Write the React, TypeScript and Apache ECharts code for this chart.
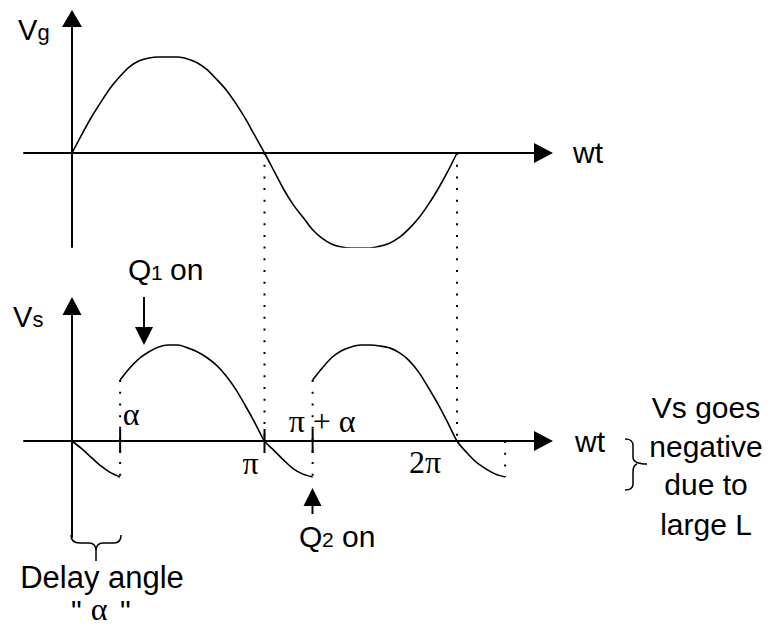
import React, { useEffect, useRef } from "react";
import * as echarts from "echarts";

// ---------- data (x in multiples of π, y in units of peak amplitude) ----------
const vgX = [0, 0.05, 0.1, 0.15, 0.2, 0.25, 0.3, 0.35, 0.4, 0.45, 0.5, 0.55, 0.6, 0.65, 0.7, 0.75, 0.8, 0.85, 0.9, 0.95, 1,
  1.05, 1.1, 1.15, 1.2, 1.25, 1.3, 1.35, 1.4, 1.45, 1.5, 1.55, 1.6, 1.65, 1.7, 1.75, 1.8, 1.85, 1.9, 1.95, 2];
const vgY = [0, 0.19, 0.37, 0.53, 0.68, 0.8, 0.9, 0.96, 0.99, 1, 1, 1, 0.98, 0.94, 0.87, 0.77, 0.66, 0.52, 0.36, 0.18, 0,
  -0.19, -0.38, -0.54, -0.67, -0.8, -0.89, -0.95, -0.98, -0.99, -0.99, -0.99, -0.97, -0.94, -0.88, -0.79, -0.68, -0.54, -0.38, -0.2, 0];

const vsX1 = [0, 0.05, 0.1, 0.15, 0.2, 0.25];
const vsY1 = [0, -0.08, -0.17, -0.26, -0.33, -0.375];

const vsX2 = [0.25, 0.3, 0.35, 0.4, 0.45, 0.5, 0.55, 0.6, 0.65, 0.7, 0.75, 0.8, 0.85, 0.9, 0.95, 1, 1.05, 1.1, 1.15, 1.2, 1.25];
const vsY2 = [0.635, 0.76, 0.86, 0.93, 0.98, 1, 1, 0.97, 0.93, 0.87, 0.79, 0.68, 0.54, 0.37, 0.19, 0, -0.1, -0.2, -0.29, -0.345, -0.375];

const vsX3 = [1.25, 1.3, 1.35, 1.4, 1.45, 1.5, 1.55, 1.6, 1.65, 1.7, 1.75, 1.8, 1.85, 1.9, 1.95, 2, 2.05, 2.1, 2.15, 2.2, 2.25];
const vsY3 = [0.635, 0.76, 0.87, 0.94, 0.98, 1, 1, 0.99, 0.97, 0.92, 0.84, 0.72, 0.56, 0.39, 0.2, 0, -0.12, -0.22, -0.29, -0.345, -0.375];

const dividerX = [1, 2];          // dotted guides from Vg axis down to Vs axis
const firingX = [0.25, 1.25];     // dotted at the firing instants
const firingTop = 0.635;
const firingBottom = -0.375;
const tailX = [2.25];
const tickX = [0.25, 1, 1.25];
const tickLabelX = [0.25, 1, 1.25, 2];
const tickLabelText = ["α", "π", "π + α", "2π"];

// ---------- layout ----------
const W = 773, H = 628;
const X0 = 72, PX_PER_PI = 192.5, UNIT = 96;
const TOP_AXIS_Y = 153, BOT_AXIS_Y = 441;
const X_LEFT = 24, X_END = 543.5;
const TOP_Y_END = 18.5, TOP_Y_BOTTOM = 247;
const BOT_Y_END = 306, BOT_Y_BOTTOM = 537;
const LABEL_OFFSETS = [[11, -27], [-14, 21.5], [9.5, -20], [-32, 21]];
const TICK_HALF = 0.125;

const SANS = "'Liberation Sans', Arial, Helvetica, sans-serif";
const SERIF = "'Liberation Serif', 'Times New Roman', serif";

function txt(text: string, x: number, baseline: number, size: number, family = SANS, align = "left") {
  const c = family === SERIF ? 0.3375 : 0.3465;
  return {
    type: "text",
    x,
    y: baseline - c * size,
    z: 10,
    style: {
      text,
      fontSize: size,
      fontFamily: family,
      fill: "#000",
      align,
      verticalAlign: "middle",
      textAlign: align,
      textVerticalAlign: "middle",
    },
  };
}

export default function App() {
  const ref = useRef<HTMLDivElement>(null);
  useEffect(() => {
    echarts.graphic.registerShape(
      "underBrace",
      echarts.graphic.extendPath(
        "M71 535 C71 541 74 543 80 543 L89 543 C94 543 96 546 96 551 L96 561 M96 551 C96 546 98 543 103 543 L114 543 C119 543 121 540 121 535",
        {}
      )
    );
    echarts.graphic.registerShape(
      "sideBrace",
      echarts.graphic.extendPath(
        "M625 439 C631 439 633 441 633 446 L633 457 C633 462 637 464 647 464 M637 464 C634 465 633 468 633 472 L633 484 C633 488 630 490 625 490",
        {}
      )
    );

    const chart = echarts.init(ref.current!, null, { renderer: "svg" });

    const xMin = (X_LEFT - X0) / PX_PER_PI;
    const xMax = (X_END - X0) / PX_PER_PI;
    const y0Max = (TOP_AXIS_Y - TOP_Y_END) / UNIT;
    const y0Min = -(TOP_Y_BOTTOM - TOP_AXIS_Y) / UNIT;
    const y1Max = (BOT_AXIS_Y - BOT_Y_END) / UNIT;
    const y1Min = -(BOT_Y_BOTTOM - BOT_AXIS_Y) / UNIT;
    const axisGap = (BOT_AXIS_Y - TOP_AXIS_Y) / UNIT;

    const zip = (xs: number[], ys: number[]) => xs.map((x, i) => [x, ys[i]]);
    const curveStyle = { color: "#000", width: 1.6 };
    const dotStyle = { color: "#000", width: 2, type: [2, 9.7] as any };
    const curve = (idx: number, data: number[][]) => ({
      type: "line", xAxisIndex: idx, yAxisIndex: idx, data, symbol: "none", showSymbol: false,
      smooth: 0.3, lineStyle: curveStyle, silent: true, z: 3,
    });
    const seg = (idx: number, data: number[][], lineStyle: any) => ({
      type: "line", xAxisIndex: idx, yAxisIndex: idx, data, symbol: "none", showSymbol: false,
      clip: false, lineStyle, silent: true, z: 2,
    });

    const xAxisBase = (gridIndex: number, size: number[]) => ({
      type: "value", gridIndex, min: xMin, max: xMax,
      axisLine: { show: true, onZero: true, symbol: ["none", "triangle"], symbolSize: size, lineStyle: { color: "#000", width: 2 } },
      axisTick: { show: false }, axisLabel: { show: false }, splitLine: { show: false },
    });
    const yAxisBase = (gridIndex: number, min: number, max: number, size: number[]) => ({
      type: "value", gridIndex, min, max,
      axisLine: { show: true, onZero: true, symbol: ["none", "triangle"], symbolSize: size, lineStyle: { color: "#000", width: 2 } },
      axisTick: { show: false }, axisLabel: { show: false }, splitLine: { show: false },
    });

    const labelStyle = {
      show: true, position: "inside", formatter: (p: any) => p.name,
      fontFamily: SERIF, fontSize: 32, color: "#000", textBorderWidth: 0, opacity: 1,
    };

    const series: any[] = [
      curve(0, zip(vgX, vgY)),
      curve(1, zip(vsX1, vsY1)),
      curve(1, zip(vsX2, vsY2)),
      curve(1, zip(vsX3, vsY3)),
      ...dividerX.map((x) => seg(0, [[x, 0], [x, -axisGap]], dotStyle)),
      ...firingX.map((x) => seg(1, [[x, firingTop], [x, firingBottom]], dotStyle)),
      ...tailX.map((x) => seg(1, [[x, 0], [x, firingBottom]], dotStyle)),
      ...tickX.map((x) => seg(1, [[x, TICK_HALF], [x, -TICK_HALF]], { color: "#000", width: 2 })),
      {
        type: "scatter", xAxisIndex: 1, yAxisIndex: 1, symbolSize: 0, silent: true, clip: false,
        itemStyle: { color: "#000", opacity: 1 },
        data: tickLabelX.map((x, i) => ({
          value: [x, 0], name: tickLabelText[i],
          label: { ...labelStyle, offset: LABEL_OFFSETS[i] },
        })),
        label: labelStyle,
        z: 5,
      },
    ];

    const graphic: any[] = [
      txt("V", 18, 40, 29), txt("g", 37.5, 40, 22),
      txt("wt", 573, 163, 30),
      txt("Q", 128, 280, 30), txt("1", 151, 280, 21), txt("on", 170, 280, 30),
      txt("V", 13, 327, 29), txt("s", 32.5, 327, 22),
      txt("wt", 575, 452, 30),
      txt("Q", 299, 547, 30), txt("2", 322, 547, 21), txt("on", 342, 547, 30),
      txt("Delay angle", 102, 588, 31, SANS, "center"),
      txt("\"", 71, 621, 30), txt("α", 99, 620, 32, SERIF, "center"), txt("\"", 120, 621, 30),
      txt("Vs goes", 706, 418, 30, SANS, "center"),
      txt("negative", 706, 457, 30, SANS, "center"),
      txt("due to", 706, 495, 30, SANS, "center"),
      txt("large L", 706, 535, 30, SANS, "center"),
      { type: "line", shape: { x1: 144, y1: 297, x2: 144, y2: 330 }, style: { stroke: "#000", lineWidth: 2 }, z: 10 },
      { type: "polygon", shape: { points: [[135, 327], [153, 327], [144, 345]] }, style: { fill: "#000" }, z: 10 },
      { type: "line", shape: { x1: 312.5, y1: 504, x2: 312.5, y2: 514 }, style: { stroke: "#000", lineWidth: 2 }, z: 10 },
      { type: "polygon", shape: { points: [[303.5, 506], [321.5, 506], [312.5, 488]] }, style: { fill: "#000" }, z: 10 },
      { type: "underBrace", x: 0, y: 0, style: { fill: "none", stroke: "#000", lineWidth: 1.5 }, z: 10 },
      { type: "sideBrace", x: 0, y: 0, style: { fill: "none", stroke: "#000", lineWidth: 1.5 }, z: 10 },
    ];

    chart.setOption({
      animation: false,
      backgroundColor: "#fff",
      grid: [
        { left: X_LEFT, top: TOP_Y_END, width: X_END - X_LEFT, height: TOP_Y_BOTTOM - TOP_Y_END, containLabel: false, outerBoundsMode: "none" },
        { left: X_LEFT, top: BOT_Y_END, width: X_END - X_LEFT, height: BOT_Y_BOTTOM - BOT_Y_END, containLabel: false, outerBoundsMode: "none" },
      ],
      xAxis: [xAxisBase(0, [20, 19]), xAxisBase(1, [20, 19])],
      yAxis: [yAxisBase(0, y0Min, y0Max, [20, 17]), yAxisBase(1, y1Min, y1Max, [19, 18])],
      series,
      graphic,
    } as any);

    return () => chart.dispose();
  }, []);

  return (
    <div
      ref={ref}
      style={{ position: "fixed", left: 0, top: 0, width: W, height: H, background: "#fff" }}
    />
  );
}
